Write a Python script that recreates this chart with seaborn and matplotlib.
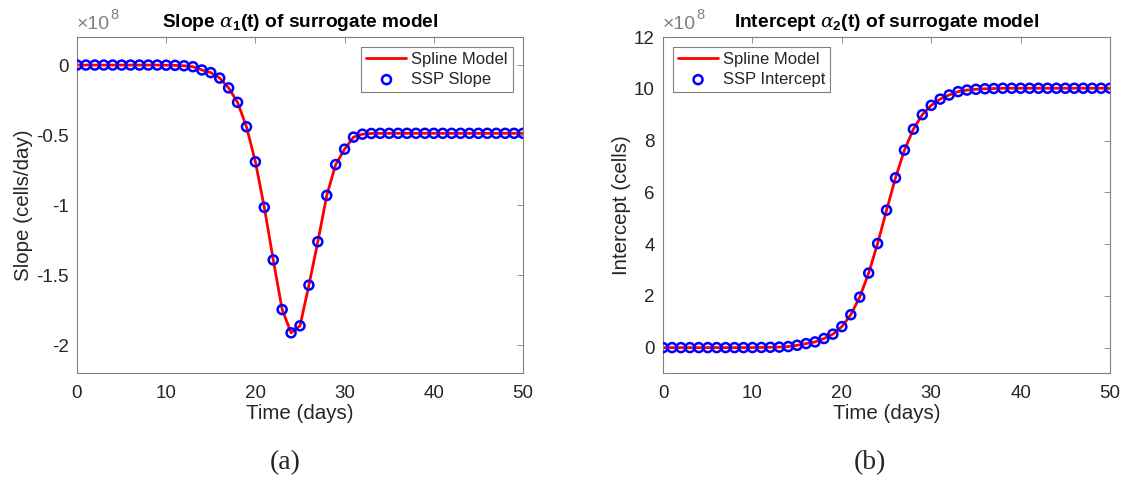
import numpy as np
import pandas as pd
import matplotlib
matplotlib.use("Agg")
import matplotlib.pyplot as plt
import matplotlib.transforms as mtransforms
import seaborn as sns

# Time grid (days)
days = list(range(0, 51))

# Slope alpha_1(t), in units of 1e8 cells/day
slope = [0.0, 0.0, 0.0, 0.0, 0.0, 0.0, 0.0, 0.0, 0.0, 0.0,
         -0.001, -0.002, -0.005, -0.012, -0.035, -0.054, -0.093, -0.163, -0.266, -0.44,
         -0.69, -1.015, -1.39, -1.744, -1.91, -1.86, -1.57, -1.26, -0.93, -0.71,
         -0.60, -0.514, -0.493, -0.488, -0.487, -0.487, -0.487, -0.487, -0.487, -0.487,
         -0.487, -0.487, -0.487, -0.487, -0.487, -0.487, -0.487, -0.487, -0.487, -0.487,
         -0.487]

# Intercept alpha_2(t), in units of 1e8 cells
intercept = [0.0, 0.0, 0.0, 0.0, 0.0, 0.0, 0.0, 0.0, 0.0, 0.0,
             0.003, 0.006, 0.012, 0.02, 0.04, 0.09, 0.155, 0.22, 0.35, 0.52,
             0.81, 1.27, 1.95, 2.88, 4.02, 5.31, 6.56, 7.63, 8.44, 9.0,
             9.36, 9.6, 9.76, 9.89, 9.95, 9.98, 10.0, 10.01, 10.02, 10.02,
             10.02, 10.02, 10.02, 10.02, 10.02, 10.02, 10.02, 10.02, 10.02, 10.02,
             10.02]

slope_ticks = [-2, -1.5, -1, -0.5, 0]
intercept_ticks = [0, 2, 4, 6, 8, 10, 12]
time_ticks = [0, 10, 20, 30, 40, 50]

df = pd.DataFrame({"t": days, "slope": slope, "intercept": intercept})

sns.set_style("white")
plt.rcParams["font.family"] = ["Liberation Sans", "DejaVu Sans"]
plt.rcParams["axes.unicode_minus"] = False
plt.rcParams["mathtext.fontset"] = "custom"
plt.rcParams["mathtext.rm"] = "Liberation Sans"
plt.rcParams["mathtext.it"] = "DejaVu Serif:italic"
plt.rcParams["mathtext.bf"] = "Liberation Sans:bold"

fig = plt.figure(figsize=(11.24, 4.8), dpi=100)
ax1 = fig.add_axes([0.0685, 0.2219, 0.3968, 0.7010])
ax2 = fig.add_axes([0.5899, 0.2219, 0.3977, 0.7010])

AX_COLOR = "#262626"
GRID_COLOR = "#808080"


def draw(ax, col, label, title, ylabel, yticks, ylim, legend_loc, legend_anchor):
    sns.lineplot(data=df, x="t", y=col, ax=ax, color="red", linewidth=2.0,
                 label="Spline Model", zorder=2)
    sns.scatterplot(data=df, x="t", y=col, ax=ax, marker="o", s=42,
                    facecolors="none", edgecolor="blue", linewidth=1.8,
                    label=label, zorder=3)
    ax.set_xlim(0, 50)
    ax.set_ylim(*ylim)
    ax.set_xticks(time_ticks)
    ax.set_yticks(yticks)
    ax.set_xticklabels([f"{v:g}" for v in time_ticks])
    ax.set_yticklabels([f"{v:g}" for v in yticks])
    ax.tick_params(direction="in", top=True, right=True, length=4,
                   width=0.6, colors=GRID_COLOR, labelcolor=AX_COLOR,
                   labelsize=13.5)
    ax.tick_params(axis="x", pad=8)
    ax.tick_params(axis="y", pad=6)
    for sp in ax.spines.values():
        sp.set_visible(True)
        sp.set_color(GRID_COLOR)
        sp.set_linewidth(0.8)
    ax.set_xlabel("Time (days)", fontsize=14.8, color=AX_COLOR, labelpad=2)
    ax.set_ylabel(ylabel, fontsize=14.8, color=AX_COLOR, labelpad=2)
    ax.set_title(title, fontsize=13.8, fontweight="bold", color="black", pad=7)
    # exponent marker above the y axis
    ax.text(0.0, 1.012, "\u00d710", transform=ax.transAxes,
            fontsize=14, color=GRID_COLOR, ha="left", va="bottom")
    sup = mtransforms.offset_copy(ax.transAxes, fig=fig, x=24, y=8, units="points")
    ax.text(0.0, 1.012, "8", transform=sup, fontsize=10.5, color=GRID_COLOR,
            ha="left", va="bottom")
    leg = ax.legend(loc=legend_loc, bbox_to_anchor=legend_anchor, fontsize=12,
                    frameon=True, fancybox=False, framealpha=1,
                    edgecolor=GRID_COLOR, borderpad=0.3, labelspacing=0.3,
                    handlelength=2.4, handletextpad=0.3, borderaxespad=0.6)
    leg.get_frame().set_linewidth(0.8)


draw(ax1, "slope", "SSP Slope",
     r"Slope $\alpha_\mathbf{1}$(t) of surrogate model",
     "Slope (cells/day)", slope_ticks, (-2.2, 0.2), "upper right", (1.0, 1.0))
draw(ax2, "intercept", "SSP Intercept",
     r"Intercept $\alpha_\mathbf{2}$(t) of surrogate model",
     "Intercept (cells)", intercept_ticks, (-1, 12), "upper left", (0.0, 1.0))

fig.text(0.2536, 0.036, "(a)", fontsize=20, family="Liberation Serif",
         ha="center", va="center")
fig.text(0.7740, 0.036, "(b)", fontsize=20, family="Liberation Serif",
         ha="center", va="center")

fig.savefig("out.png", dpi=100, facecolor="white")
